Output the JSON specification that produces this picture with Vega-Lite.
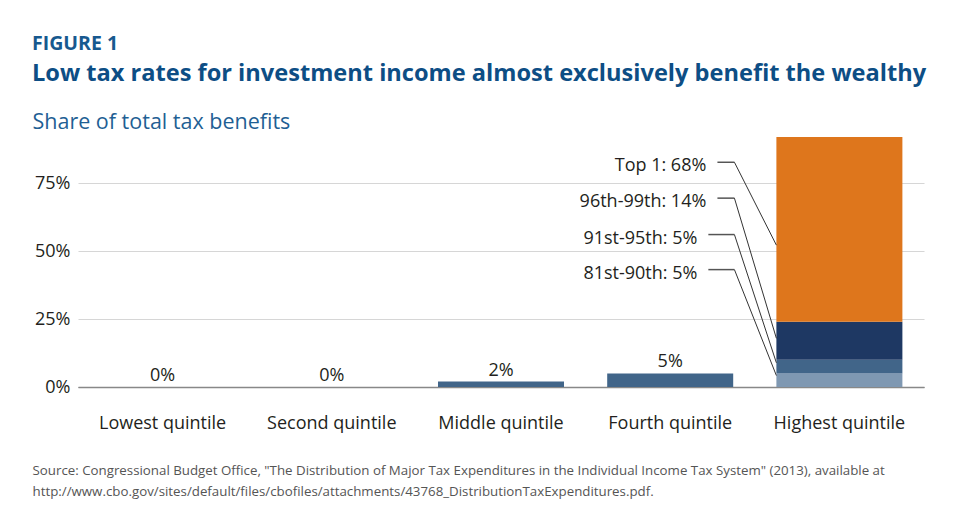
{
  "$schema": "https://vega.github.io/schema/vega-lite/v6.json",
  "width": 846,
  "height": 250,
  "padding": {"left": 32, "top": 33, "right": 5, "bottom": 5},
  "background": "white",
  "config": {"font": "Open Sans", "view": {"stroke": null}},
  "title": {
    "text": "FIGURE 1",
    "subtitle": "Low tax rates for investment income almost exclusively benefit the wealthy",
    "anchor": "start",
    "frame": "bounds",
    "font": "Open Sans",
    "fontSize": 19.5,
    "fontWeight": "bold",
    "color": "#17598f",
    "subtitleFont": "Open Sans",
    "subtitleFontSize": 23.6,
    "subtitleFontWeight": "bold",
    "subtitleColor": "#0d4e85",
    "subtitlePadding": 8,
    "offset": 24
  },
  "datasets": {
    "bars": [
      {"quintile": "Lowest quintile", "segment": "Quintile", "value": 0, "rank": 1, "label": "0%"},
      {"quintile": "Second quintile", "segment": "Quintile", "value": 0, "rank": 1, "label": "0%"},
      {"quintile": "Middle quintile", "segment": "Quintile", "value": 2, "rank": 1, "label": "2%"},
      {"quintile": "Fourth quintile", "segment": "Quintile", "value": 5, "rank": 1, "label": "5%"},
      {"quintile": "Highest quintile", "segment": "81st-90th", "value": 5, "rank": 1},
      {"quintile": "Highest quintile", "segment": "91st-95th", "value": 5, "rank": 2},
      {"quintile": "Highest quintile", "segment": "96th-99th", "value": 14, "rank": 3},
      {"quintile": "Highest quintile", "segment": "Top 1", "value": 68, "rank": 4}
    ],
    "notes": [
      {"quintile": "Highest quintile", "label": "Top 1: 68%", "line_y": 82.7, "end_y": 52.2, "group": "upper"},
      {"quintile": "Highest quintile", "label": "96th-99th: 14%", "line_y": 69.5, "end_y": 17.9, "group": "upper"},
      {"quintile": "Highest quintile", "label": "91st-95th: 5%", "line_y": 56.1, "end_y": 8.9, "group": "lower"},
      {"quintile": "Highest quintile", "label": "81st-90th: 5%", "line_y": 43.2, "end_y": 4.2, "group": "lower"}
    ]
  },
  "layer": [
    {
      "data": {"name": "bars"},
      "mark": {"type": "bar"},
      "encoding": {
        "x": {
          "field": "quintile", "type": "nominal",
          "sort": ["Lowest quintile", "Second quintile", "Middle quintile", "Fourth quintile", "Highest quintile"],
          "scale": {"paddingInner": 0.2553, "paddingOuter": 0.1277},
          "axis": {
            "labelAngle": 0, "labelFontSize": 18, "labelColor": "#231f20",
            "labelBaseline": "alphabetic", "labelPadding": 41,
            "ticks": false, "tickSize": 0,
            "domain": true, "domainColor": "#888888", "domainWidth": 1.5,
            "grid": false,
            "title": ["Source: Congressional Budget Office, \"The Distribution of Major Tax Expenditures in the Individual Income Tax System\" (2013), available at", "http://www.cbo.gov/sites/default/files/cbofiles/attachments/43768_DistributionTaxExpenditures.pdf."],
            "titleX": -46, "titleY": 87, "titleAlign": "left", "titleAnchor": "start",
            "titleBaseline": "alphabetic", "titleFontSize": 13.3, "titleFontWeight": "normal",
            "titleColor": "#555555", "titleLineHeight": 21
          }
        },
        "y": {
          "field": "value", "type": "quantitative", "stack": "zero",
          "scale": {"domain": [0, 92], "nice": false},
          "axis": {
            "values": [0, 25, 50, 75],
            "labelExpr": "datum.value + '%'",
            "labelFontSize": 18, "labelColor": "#231f20", "labelPadding": 8,
            "domain": false, "ticks": false,
            "grid": true,
            "gridColor": {"condition": {"test": "datum.value === 0", "value": "#888888"}, "value": "#d6d6d6"},
            "gridWidth": 1.2,
            "title": "Share of total tax benefits",
            "titleAngle": 0, "titleAlign": "left", "titleAnchor": "start", "titleBaseline": "alphabetic",
            "titleX": -46, "titleY": -9,
            "titleFontSize": 21.5, "titleFontWeight": "normal", "titleColor": "#1f5f94"
          }
        },
        "color": {
          "field": "segment", "type": "nominal",
          "scale": {
            "domain": ["Quintile", "81st-90th", "91st-95th", "96th-99th", "Top 1"],
            "range": ["#416589", "#7f98b2", "#416589", "#1e3863", "#de761c"]
          },
          "legend": null
        },
        "order": {"field": "rank", "type": "quantitative"}
      }
    },
    {
      "data": {"name": "bars"},
      "transform": [{"filter": "datum.label"}],
      "mark": {"type": "text", "baseline": "alphabetic", "dy": -6, "fontSize": 18, "color": "#231f20"},
      "encoding": {
        "x": {"field": "quintile", "type": "nominal", "sort": ["Lowest quintile", "Second quintile", "Middle quintile", "Fourth quintile", "Highest quintile"]},
        "y": {"field": "value", "type": "quantitative", "stack": null},
        "text": {"field": "label"}
      }
    },
    {
      "data": {"name": "notes"},
      "transform": [{"filter": "datum.group === 'upper'"}],
      "mark": {"type": "text", "align": "right", "baseline": "middle", "dy": 4, "fontSize": 18, "color": "#231f20"},
      "encoding": {
        "x": {"field": "quintile", "type": "nominal", "bandPosition": -0.556, "sort": ["Lowest quintile", "Second quintile", "Middle quintile", "Fourth quintile", "Highest quintile"]},
        "y": {"field": "line_y", "type": "quantitative"},
        "text": {"field": "label"}
      }
    },
    {
      "data": {"name": "notes"},
      "transform": [{"filter": "datum.group === 'lower'"}],
      "mark": {"type": "text", "align": "right", "baseline": "middle", "dy": 4, "fontSize": 18, "color": "#231f20"},
      "encoding": {
        "x": {"field": "quintile", "type": "nominal", "bandPosition": -0.627, "sort": ["Lowest quintile", "Second quintile", "Middle quintile", "Fourth quintile", "Highest quintile"]},
        "y": {"field": "line_y", "type": "quantitative"},
        "text": {"field": "label"}
      }
    },
    {
      "data": {"name": "notes"},
      "transform": [{"filter": "datum.group === 'upper'"}],
      "mark": {"type": "rule", "color": "#555555", "strokeWidth": 1.5},
      "encoding": {
        "x": {"field": "quintile", "type": "nominal", "bandPosition": -0.468, "sort": ["Lowest quintile", "Second quintile", "Middle quintile", "Fourth quintile", "Highest quintile"]},
        "x2": {"field": "quintile", "bandPosition": -0.333},
        "y": {"field": "line_y", "type": "quantitative"}
      }
    },
    {
      "data": {"name": "notes"},
      "transform": [{"filter": "datum.group === 'lower'"}],
      "mark": {"type": "rule", "color": "#555555", "strokeWidth": 1.5},
      "encoding": {
        "x": {"field": "quintile", "type": "nominal", "bandPosition": -0.54, "sort": ["Lowest quintile", "Second quintile", "Middle quintile", "Fourth quintile", "Highest quintile"]},
        "x2": {"field": "quintile", "bandPosition": -0.333},
        "y": {"field": "line_y", "type": "quantitative"}
      }
    },
    {
      "data": {"name": "notes"},
      "mark": {"type": "rule", "color": "#333333", "strokeWidth": 1},
      "encoding": {
        "x": {"field": "quintile", "type": "nominal", "bandPosition": -0.333, "sort": ["Lowest quintile", "Second quintile", "Middle quintile", "Fourth quintile", "Highest quintile"]},
        "x2": {"field": "quintile", "bandPosition": 0},
        "y": {"field": "line_y", "type": "quantitative"},
        "y2": {"field": "end_y"}
      }
    }
  ]
}
